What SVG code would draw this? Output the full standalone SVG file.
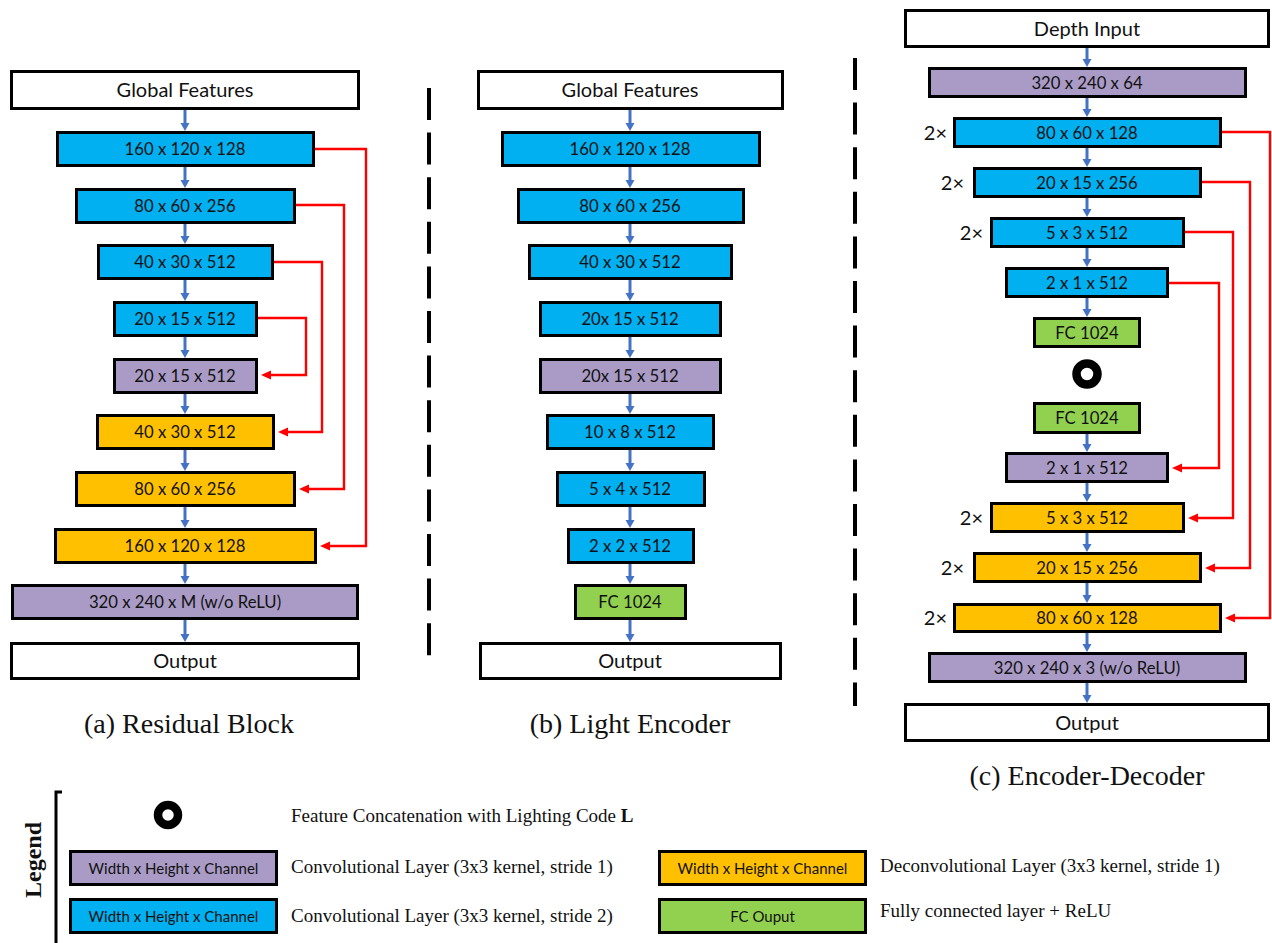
<svg xmlns="http://www.w3.org/2000/svg" width="1272" height="943" viewBox="0 0 1272 943">
<style>
  .box{stroke:#000;stroke-width:3}
  .w{fill:#ffffff}
  .b{fill:#00B0F0}
  .p{fill:#A99BC6}
  .o{fill:#FFC000}
  .g{fill:#92D050}
  .t{font-family:Lato,"Open Sans",sans-serif;font-size:16.7px;fill:#111;text-anchor:middle}
  .tw{font-family:Lato,"Open Sans",sans-serif;font-size:20px;fill:#111;text-anchor:middle}
  .rep{font-family:Lato,"Open Sans",sans-serif;font-size:20px;fill:#111;text-anchor:end}
  .lt{font-family:Lato,"Open Sans",sans-serif;font-size:15px;fill:#111;text-anchor:middle}
  .cap{font-family:"Liberation Serif","Times New Roman",serif;font-size:28px;fill:#111;text-anchor:middle}
  .leg{font-family:"Liberation Serif","Times New Roman",serif;font-size:19px;fill:#111}
  .blue{stroke:#4472C4;stroke-width:3;fill:none;marker-end:url(#bh)}
  .red{stroke:#FF0000;stroke-width:2.4;fill:none;marker-end:url(#rh)}
  .dash{stroke:#000;stroke-width:4;stroke-dasharray:32 12.6;fill:none}
  .ring{fill:none;stroke:#000;stroke-width:8.5}
</style>
<defs>
  <marker id="bh" markerUnits="userSpaceOnUse" markerWidth="9" markerHeight="9" refX="0" refY="4.5" orient="auto" overflow="visible">
    <path d="M0,0 L8,4.5 L0,9 z" fill="#4472C4"/>
  </marker>
  <marker id="rh" markerUnits="userSpaceOnUse" markerWidth="10" markerHeight="9" refX="0" refY="4.5" orient="auto" overflow="visible">
    <path d="M0,0 L10,4.5 L0,9 z" fill="#FF0000"/>
  </marker>
</defs>
<rect width="1272" height="943" fill="#ffffff"/>

<!-- dividers -->
<line class="dash" x1="429" y1="88" x2="429" y2="657"/>
<line class="dash" x1="855" y1="58" x2="855" y2="706"/>

<!-- Column (a) Residual Block -->
<g id="col-a">
  <g id="a1"><rect class="box w" x="11.5" y="71.5" width="347" height="37"/><text class="tw" x="185" y="97">Global Features</text></g>
  <g id="a2"><rect class="box b" x="57.5" y="132.5" width="256" height="33"/><text class="t" x="185" y="155">160 x 120 x 128</text></g>
  <g id="a3"><rect class="box b" x="76.5" y="189.5" width="218" height="33"/><text class="t" x="185" y="212">80 x 60 x 256</text></g>
  <g id="a4"><rect class="box b" x="98.5" y="245.5" width="174" height="33"/><text class="t" x="185" y="268">40 x 30 x 512</text></g>
  <g id="a5"><rect class="box b" x="114.5" y="302.5" width="142" height="33"/><text class="t" x="185" y="325">20 x 15 x 512</text></g>
  <g id="a6"><rect class="box p" x="114.5" y="359.5" width="142" height="33"/><text class="t" x="185" y="382">20 x 15 x 512</text></g>
  <g id="a7"><rect class="box o" x="97.5" y="415.5" width="176" height="33"/><text class="t" x="185" y="438">40 x 30 x 512</text></g>
  <g id="a8"><rect class="box o" x="76.5" y="472.5" width="218" height="33"/><text class="t" x="185" y="495">80 x 60 x 256</text></g>
  <g id="a9"><rect class="box o" x="55.5" y="529.5" width="260" height="33"/><text class="t" x="185" y="552">160 x 120 x 128</text></g>
  <g id="a10"><rect class="box p" x="12.5" y="585.5" width="345" height="33"/><text class="t" x="185" y="608">320 x 240 x M (w/o ReLU)</text></g>
  <g id="a11"><rect class="box w" x="11.5" y="643.5" width="347" height="35"/><text class="tw" x="185" y="668">Output</text></g>
  <text class="cap" x="189" y="733">(a) Residual Block</text>
</g>

<!-- Column (b) Light Encoder -->
<g id="col-b">
  <g id="b1"><rect class="box w" x="478.5" y="71.5" width="304" height="37"/><text class="tw" x="630" y="97">Global Features</text></g>
  <g id="b2"><rect class="box b" x="502.5" y="132.5" width="257" height="33"/><text class="t" x="630" y="155">160 x 120 x 128</text></g>
  <g id="b3"><rect class="box b" x="518.5" y="189.5" width="225" height="33"/><text class="t" x="630" y="212">80 x 60 x 256</text></g>
  <g id="b4"><rect class="box b" x="529.5" y="245.5" width="202" height="33"/><text class="t" x="630" y="268">40 x 30 x 512</text></g>
  <g id="b5"><rect class="box b" x="540.5" y="302.5" width="180" height="33"/><text class="t" x="630" y="325">20x 15 x 512</text></g>
  <g id="b6"><rect class="box p" x="540.5" y="359.5" width="180" height="33"/><text class="t" x="630" y="382">20x 15 x 512</text></g>
  <g id="b7"><rect class="box b" x="547.5" y="415.5" width="166" height="33"/><text class="t" x="630" y="438">10 x 8 x 512</text></g>
  <g id="b8"><rect class="box b" x="557.5" y="472.5" width="147" height="33"/><text class="t" x="630" y="495">5 x 4 x 512</text></g>
  <g id="b9"><rect class="box b" x="568.5" y="529.5" width="125" height="33"/><text class="t" x="630" y="552">2 x 2 x 512</text></g>
  <g id="b10"><rect class="box g" x="575.5" y="585.5" width="110" height="33"/><text class="t" x="630" y="608">FC 1024</text></g>
  <g id="b11"><rect class="box w" x="480.5" y="643.5" width="300" height="35"/><text class="tw" x="630" y="668">Output</text></g>
  <text class="cap" x="630" y="733">(b) Light Encoder</text>
</g>

<!-- Column (c) Encoder-Decoder -->
<g id="col-c">
  <g id="c1"><rect class="box w" x="905.5" y="10.5" width="363" height="36"/><text class="tw" x="1087" y="35.5">Depth Input</text></g>
  <g id="c2"><rect class="box p" x="929.5" y="68.5" width="316" height="28"/><text class="t" x="1087" y="88.5">320 x 240 x 64</text></g>
  <g id="c3"><rect class="box b" x="954.5" y="118.5" width="266" height="28"/><text class="t" x="1087" y="138.5">80 x 60 x 128</text><text class="rep" x="947" y="139.5">2×</text></g>
  <g id="c4"><rect class="box b" x="974.5" y="168.5" width="226" height="28"/><text class="t" x="1087" y="188.5">20 x 15 x 256</text><text class="rep" x="964" y="189.5">2×</text></g>
  <g id="c5"><rect class="box b" x="991.5" y="218.5" width="192" height="28"/><text class="t" x="1087" y="238.5">5 x 3 x 512</text><text class="rep" x="983" y="239.5">2×</text></g>
  <g id="c6"><rect class="box b" x="1006.5" y="268.5" width="161" height="28"/><text class="t" x="1087" y="288.5">2 x 1 x 512</text></g>
  <g id="c7"><rect class="box g" x="1034.5" y="318.5" width="105" height="28"/><text class="t" x="1087" y="338.5">FC 1024</text></g>
  <g id="c8"><circle class="ring" cx="1087" cy="374" r="10.5"/></g>
  <g id="c9"><rect class="box g" x="1034.5" y="403.5" width="105" height="29"/><text class="t" x="1087" y="424">FC 1024</text></g>
  <g id="c10"><rect class="box p" x="1006.5" y="453.5" width="161" height="28"/><text class="t" x="1087" y="473.5">2 x 1 x 512</text></g>
  <g id="c11"><rect class="box o" x="991.5" y="503.5" width="192" height="28"/><text class="t" x="1087" y="523.5">5 x 3 x 512</text><text class="rep" x="983" y="524.5">2×</text></g>
  <g id="c12"><rect class="box o" x="974.5" y="553.5" width="226" height="28"/><text class="t" x="1087" y="573.5">20 x 15 x 256</text><text class="rep" x="964" y="574.5">2×</text></g>
  <g id="c13"><rect class="box o" x="954.5" y="604.5" width="266" height="27"/><text class="t" x="1087" y="624">80 x 60 x 128</text><text class="rep" x="947" y="625">2×</text></g>
  <g id="c14"><rect class="box p" x="929.5" y="653.5" width="316" height="28"/><text class="t" x="1087" y="673.5">320 x 240 x 3 (w/o ReLU)</text></g>
  <g id="c15"><rect class="box w" x="905.5" y="704.5" width="363" height="36"/><text class="tw" x="1087" y="729.5">Output</text></g>
  <text class="cap" x="1087" y="785">(c) Encoder-Decoder</text>
</g>

<!-- Connectors -->
<g id="connectors">
  <!-- column a flow -->
  <path class="blue" d="M185,110 V123"/>
  <path class="blue" d="M185,167 V180"/>
  <path class="blue" d="M185,224 V236"/>
  <path class="blue" d="M185,280 V293"/>
  <path class="blue" d="M185,337 V350"/>
  <path class="blue" d="M185,394 V406"/>
  <path class="blue" d="M185,450 V463"/>
  <path class="blue" d="M185,507 V520"/>
  <path class="blue" d="M185,564 V576"/>
  <path class="blue" d="M185,620 V634"/>
  <!-- column a skips -->
  <path class="red" d="M315,149 H366 V546 H330"/>
  <path class="red" d="M296,205 H344 V489 H309"/>
  <path class="red" d="M274,262 H322 V432 H288"/>
  <path class="red" d="M258,318 H306 V375 H271"/>
  <!-- column b flow -->
  <path class="blue" d="M630,110 V123"/>
  <path class="blue" d="M630,167 V180"/>
  <path class="blue" d="M630,224 V236"/>
  <path class="blue" d="M630,280 V293"/>
  <path class="blue" d="M630,337 V350"/>
  <path class="blue" d="M630,394 V406"/>
  <path class="blue" d="M630,450 V463"/>
  <path class="blue" d="M630,507 V520"/>
  <path class="blue" d="M630,564 V576"/>
  <path class="blue" d="M630,620 V634"/>
  <!-- column c flow -->
  <path class="blue" d="M1087,48 V59"/>
  <path class="blue" d="M1087,98 V109"/>
  <path class="blue" d="M1087,148 V159"/>
  <path class="blue" d="M1087,198 V209"/>
  <path class="blue" d="M1087,248 V259"/>
  <path class="blue" d="M1087,298 V309"/>
  <path class="blue" d="M1087,434 V444"/>
  <path class="blue" d="M1087,483 V494"/>
  <path class="blue" d="M1087,533 V544"/>
  <path class="blue" d="M1087,583 V595"/>
  <path class="blue" d="M1087,633 V644"/>
  <path class="blue" d="M1087,683 V695"/>
  <!-- column c skips -->
  <path class="red" d="M1222,132 H1270 V618 H1235"/>
  <path class="red" d="M1202,182 H1250 V568 H1215"/>
  <path class="red" d="M1185,232 H1233 V518 H1198"/>
  <path class="red" d="M1169,283 H1219 V468 H1182"/>
</g>

<!-- Legend -->
<g id="legend">
  <path d="M62,792 H56 V943" fill="none" stroke="#000" stroke-width="3"/>
  <text transform="translate(41,860) rotate(-90)" text-anchor="middle" font-family="'Liberation Serif','Times New Roman',serif" font-size="24" font-weight="bold" fill="#111">Legend</text>
  <g id="leg-concat"><circle class="ring" cx="168" cy="815" r="10"/><text class="leg" x="291" y="822">Feature Concatenation with Lighting Code <tspan font-weight="bold">L</tspan></text></g>
  <g id="leg-conv1"><rect class="box p" x="70.5" y="851.5" width="206" height="33"/><text class="lt" x="173.5" y="873.5">Width x Height x Channel</text><text class="leg" x="291" y="873">Convolutional Layer (3x3 kernel, stride 1)</text></g>
  <g id="leg-conv2"><rect class="box b" x="70.5" y="899.5" width="206" height="33"/><text class="lt" x="173.5" y="921.5">Width x Height x Channel</text><text class="leg" x="291" y="922">Convolutional Layer (3x3 kernel, stride 2)</text></g>
  <g id="leg-deconv"><rect class="box o" x="659.5" y="851.5" width="206" height="33"/><text class="lt" x="762.5" y="873.5">Width x Height x Channel</text><text class="leg" x="880" y="872">Deconvolutional Layer (3x3 kernel, stride 1)</text></g>
  <g id="leg-fc"><rect class="box g" x="659.5" y="899.5" width="206" height="33"/><text class="lt" x="762.5" y="921.5">FC Ouput</text><text class="leg" x="880" y="917">Fully connected layer + ReLU</text></g>
</g>
</svg>
